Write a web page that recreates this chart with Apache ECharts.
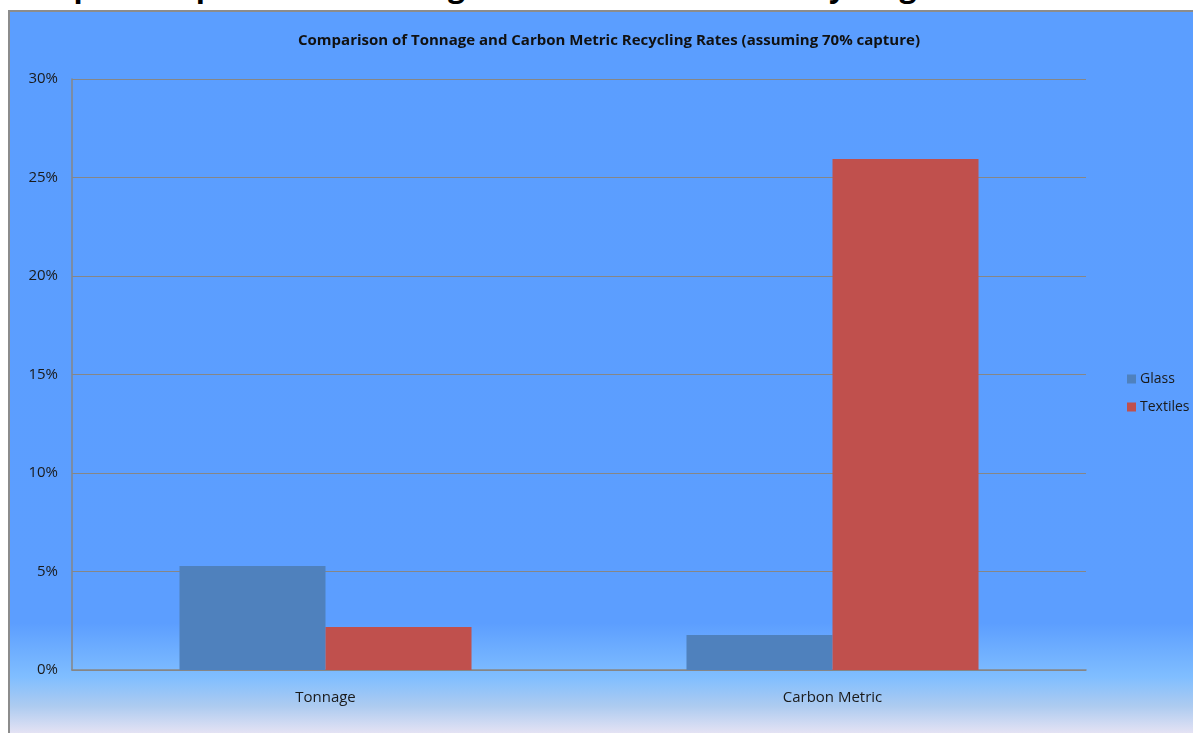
<!DOCTYPE html>
<html>
<head>
<meta charset="utf-8">
<script src="https://cdn.jsdelivr.net/npm/echarts@6/dist/echarts.min.js"></script>
<style>
  html, body { margin: 0; padding: 0; background: #ffffff; overflow: hidden; }
  #heading {
    position: absolute; left: 20px; top: -35px; margin: 0;
    font: bold 30px "Open Sans", sans-serif; color: #000; white-space: nowrap;
  }
  #chart {
    position: absolute; left: 8px; top: 10px; width: 1185px; height: 723px;
    border-left: 2px solid #8c8c8c; border-top: 2px solid #8c8c8c;
  }
</style>
</head>
<body>
<div id="heading">Graph: Comparison of Tonnage and Carbon Metric Recycling Rates</div>
<div id="chart"></div>
<script>
const categories = ["Tonnage", "Carbon Metric"];
const glassValues = [0.0528, 0.0178];
const textilesValues = [0.0218, 0.2594];
const yTicks = { min: 0, max: 0.3, interval: 0.05 };

const chart = echarts.init(document.getElementById("chart"));
const labelColor = "#1a1a1a";
const lineColor = "#868686";

chart.setOption({
  animation: false,
  backgroundColor: {
    type: "linear", x: 0, y: 0, x2: 0, y2: 1,
    colorStops: [
      { offset: 0, color: "#5b9eff" },
      { offset: 0.845, color: "#5c9eff" },
      { offset: 0.92, color: "#80beff" },
      { offset: 0.96, color: "#adcbf0" },
      { offset: 1, color: "#e8e4f4" },
    ],
  },
  title: {
    text: "Comparison of Tonnage and Carbon Metric Recycling Rates (assuming 70% capture)",
    left: 594,
    top: 16,
    textAlign: "center",
    textStyle: {
      fontFamily: "Open Sans",
      fontWeight: "bold",
      fontSize: 15,
      color: "#111",
    },
  },
  legend: {
    orient: "vertical",
    left: 1112,
    top: 355,
    itemWidth: 9,
    itemHeight: 9,
    itemGap: 14,
    icon: "rect",
    textStyle: { fontFamily: "Open Sans", fontSize: 14, color: labelColor, padding: [0, 0, 0, -1] },
    data: ["Glass", "Textiles"],
  },
  grid: {
    left: 62,
    top: 67,
    width: 1014,
    height: 591,
    containLabel: false,
  },
  xAxis: {
    type: "category",
    data: categories,
    axisLine: { lineStyle: { color: lineColor, width: 1.5 } },
    axisTick: { show: false },
    axisLabel: {
      fontFamily: "Open Sans",
      fontSize: 15,
      color: labelColor,
      margin: 20,
    },
  },
  yAxis: {
    type: "value",
    min: yTicks.min,
    max: yTicks.max,
    interval: yTicks.interval,
    axisLine: { show: true, lineStyle: { color: lineColor, width: 1.5 } },
    axisTick: { show: false },
    splitLine: { lineStyle: { color: lineColor, width: 1 } },
    axisLabel: {
      fontFamily: "Open Sans",
      fontSize: 15,
      color: labelColor,
      margin: 14,
      formatter: (v) => Math.round(v * 100) + "%",
    },
  },
  series: [
    {
      name: "Glass",
      type: "bar",
      data: glassValues,
      barGap: "0%",
      barCategoryGap: "42.4%",
      itemStyle: { color: "#4f81bd" },
    },
    {
      name: "Textiles",
      type: "bar",
      data: textilesValues,
      barGap: "0%",
      barCategoryGap: "42.4%",
      itemStyle: { color: "#c0504d" },
    },
  ],
});
</script>
</body>
</html>
